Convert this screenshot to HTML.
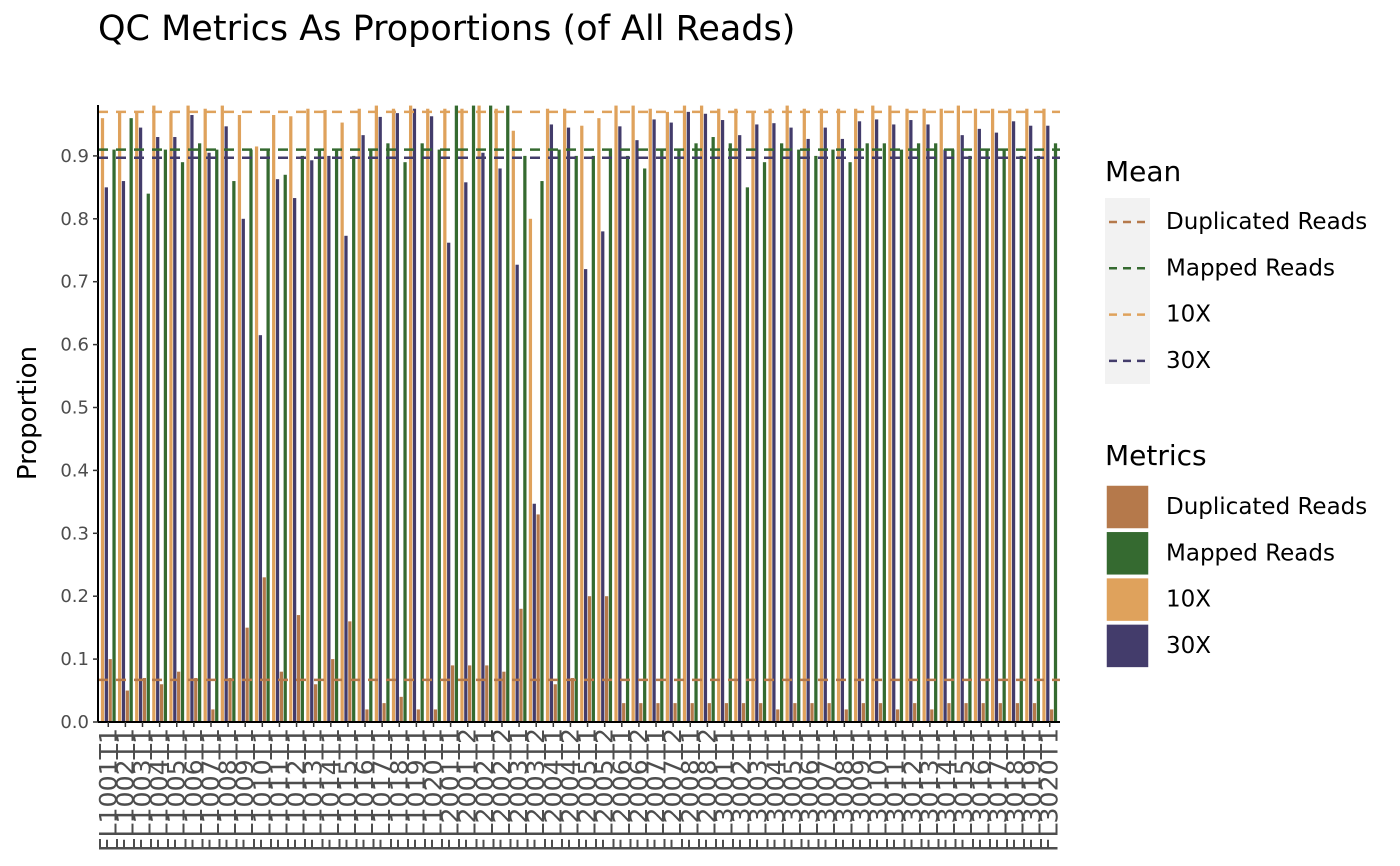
<!DOCTYPE html>
<html><head><meta charset="utf-8"><style>
body{margin:0;background:#fff;font-family:"Liberation Sans","DejaVu Sans",sans-serif}
svg{display:block}
</style></head><body>
<svg id="chart" width="1400" height="866" xmlns="http://www.w3.org/2000/svg">
<text x="98" y="40" font-size="35" fill="#000" font-family="DejaVu Sans, sans-serif">QC Metrics As Proportions (of All Reads)</text>
<text transform="translate(36,413) rotate(-90)" text-anchor="middle" font-size="26" font-family="DejaVu Sans, sans-serif">Proportion</text>
<g id="bars"></g>
<g id="means"></g>
<g id="axes"></g>
<g id="legend" font-family="DejaVu Sans, sans-serif"></g>
</svg>
<script>
const categories = [];
for (let i = 1; i <= 20; i++) categories.push('FL10' + String(i).padStart(2,'0') + 'T1');
for (let i = 1; i <= 8; i++) { categories.push('FL200' + i + 'T1'); categories.push('FL200' + i + 'T2'); }
for (let i = 1; i <= 20; i++) categories.push('FL30' + String(i).padStart(2,'0') + 'T1');

const tenX = [0.96,0.97,0.97,0.98,0.97,0.98,0.975,0.98,0.965,0.915,0.965,0.963,0.975,0.973,0.953,0.975,0.98,0.975,0.98,0.975,
0.975,0.975,0.98,0.975,0.94,0.80,0.975,0.975,0.948,0.96,0.98,0.98,0.975,0.97,0.98,0.98,
0.975,0.975,0.97,0.975,0.98,0.975,0.975,0.975,0.975,0.98,0.98,0.975,0.975,0.975,0.98,0.975,0.975,0.975,0.975,0.975];
const thirtyX = [0.85,0.86,0.945,0.93,0.93,0.965,0.905,0.947,0.80,0.615,0.863,0.833,0.893,0.90,0.773,0.933,0.962,0.968,0.975,0.963,
0.762,0.858,0.905,0.88,0.727,0.347,0.95,0.945,0.72,0.78,0.947,0.925,0.958,0.953,0.97,0.967,
0.957,0.933,0.95,0.952,0.945,0.927,0.945,0.927,0.955,0.958,0.95,0.957,0.95,0.91,0.933,0.943,0.937,0.955,0.948,0.948];
const duplicated = [0.10,0.05,0.07,0.06,0.08,0.07,0.02,0.07,0.15,0.23,0.08,0.17,0.06,0.10,0.16,0.02,0.03,0.04,0.02,0.02,
0.09,0.09,0.09,0.08,0.18,0.33,0.06,0.07,0.20,0.20,0.03,0.03,0.03,0.03,0.03,0.03,
0.03,0.03,0.03,0.02,0.03,0.03,0.03,0.02,0.03,0.03,0.02,0.03,0.02,0.03,0.03,0.03,0.03,0.03,0.03,0.02];
const mapped = [0.91,0.96,0.84,0.91,0.89,0.92,0.91,0.86,0.91,0.91,0.87,0.90,0.91,0.91,0.90,0.91,0.92,0.89,0.92,0.91,
0.98,0.98,0.98,0.98,0.90,0.86,0.91,0.90,0.90,0.91,0.90,0.88,0.91,0.91,0.92,0.93,
0.92,0.85,0.89,0.92,0.91,0.90,0.91,0.89,0.92,0.92,0.91,0.92,0.92,0.91,0.90,0.91,0.91,0.90,0.90,0.92];
const meanNames = ['Duplicated Reads','Mapped Reads','10X','30X'];
const meanValues = [0.067,0.91,0.97,0.897];
const yTicks = [0,0.1,0.2,0.3,0.4,0.5,0.6,0.7,0.8,0.9];

const NS='http://www.w3.org/2000/svg';
const X0=98, X1=1060, Y0=722, YTOP=105, YMAX=(722-105)/629;
const colors={dup:'#b5794b',map:'#356a30',ten:'#dfa25c',thirty:'#433c6b'};
const meanColors=['#b5794b','#356a30','#dfa25c','#433c6b'];
const n=categories.length;
const step=(X1-X0)/(n-1+1.2);
function xc(i){return X0+(0.6+i)*step;}
function y(v){return Y0-(v/YMAX)*(Y0-YTOP);}
function mk(tag,attrs,parent){const e=document.createElementNS(NS,tag);for(const k in attrs)e.setAttribute(k,attrs[k]);parent.appendChild(e);return e;}

const bars=document.getElementById('bars');
const bw=step*0.9/4;
const series=[[tenX,colors.ten,'bar-10x'],[thirtyX,colors.thirty,'bar-30x'],[duplicated,colors.dup,'bar-duplicated'],[mapped,colors.map,'bar-mapped']];
for(let i=0;i<n;i++){
  series.forEach((s,k)=>{
    const x=xc(i)-step*0.45+k*bw;
    const r=mk('rect',{x:x+0.3,y:y(s[0][i]),width:bw-0.6,height:Y0-y(s[0][i]),fill:s[1]},bars);
    
    
  });
}
const means=document.getElementById('means');
meanValues.forEach((v,k)=>{
  const l=mk('line',{x1:X0,x2:X1,y1:y(v),y2:y(v),stroke:meanColors[k],'stroke-width':2.5,'stroke-dasharray':'10,8'},means);
  
  
});
const axes=document.getElementById('axes');
mk('line',{x1:X0,x2:X0,y1:YTOP,y2:Y0,stroke:'#000','stroke-width':2},axes);
mk('line',{x1:X0,x2:X1,y1:Y0,y2:Y0,stroke:'#000','stroke-width':2},axes);
yTicks.forEach(t=>{
  mk('line',{x1:X0-5,x2:X0,y1:y(t),y2:y(t),stroke:'#333','stroke-width':1.5},axes);
  const tx=mk('text',{x:X0-9,y:y(t)+6,'text-anchor':'end','font-size':18,fill:'#4d4d4d','font-family':'DejaVu Sans, sans-serif'},axes);
  tx.textContent=t.toFixed(1);
  
  
});
categories.forEach((c,i)=>{
  mk('line',{x1:xc(i),x2:xc(i),y1:Y0,y2:Y0+5,stroke:'#333','stroke-width':1.5},axes);
  const tx=mk('text',{transform:`translate(${xc(i)+8},${Y0+6}) rotate(-90)`,'text-anchor':'end','font-size':24,'textLength':124,'lengthAdjust':'spacingAndGlyphs',fill:'#4d4d4d','font-family':'DejaVu Sans, sans-serif'},axes);
  tx.textContent=c;
  
  
});
const lg=document.getElementById('legend');
let t1=mk('text',{x:1105,y:181,'font-size':28},lg);t1.textContent='Mean';
mk('rect',{x:1105,y:198,width:45,height:186,fill:'#f2f2f2'},lg);
meanNames.forEach((nm,k)=>{
  const cy=222+k*46.3;
  mk('line',{x1:1109,x2:1146,y1:cy,y2:cy,stroke:meanColors[k],'stroke-width':2.5,'stroke-dasharray':'8,6'},lg);
  const t=mk('text',{x:1166,y:cy+7,'font-size':23},lg);t.textContent=nm;
  
  
});
let t2=mk('text',{x:1105,y:465,'font-size':28},lg);t2.textContent='Metrics';
const mc=[colors.dup,colors.map,colors.ten,colors.thirty];
meanNames.forEach((nm,k)=>{
  const cy=507+k*46.3;
  mk('rect',{x:1106,y:cy-22,width:43,height:44,fill:mc[k],stroke:'#fff','stroke-width':1.5},lg);
  const t=mk('text',{x:1166,y:cy+7,'font-size':23},lg);t.textContent=nm;
  
  
});
</script>
</body></html>
